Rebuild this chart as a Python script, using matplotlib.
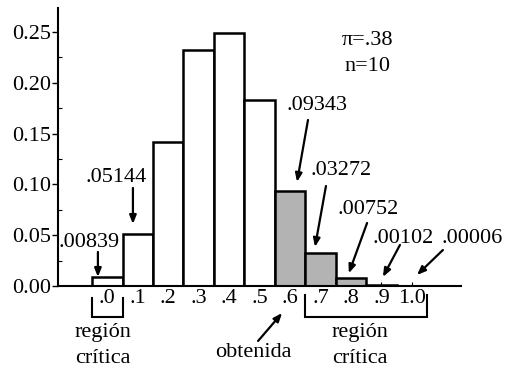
import matplotlib
matplotlib.use("Agg")
import matplotlib.pyplot as plt
from matplotlib.ticker import MultipleLocator

# Binomial distribution, n = 10, pi = .38
outcomes = list(range(11))
tick_labels = [".0", ".1", ".2", ".3", ".4", ".5", ".6", ".7", ".8", ".9", "1.0"]
probs = [0.00839, 0.05144, 0.14190, 0.23190, 0.24870, 0.18290,
         0.09343, 0.03272, 0.00752, 0.00102, 0.00006]
shaded = [6, 7, 8, 9, 10]
labelled = [0, 1, 6, 7, 8, 9, 10]
value_texts = [".00839", ".05144", ".09343", ".03272", ".00752", ".00102", ".00006"]

plt.rcParams["font.family"] = ["Liberation Serif", "DejaVu Serif"]
FS = 16

fig = plt.figure(figsize=(5.09, 3.67), dpi=100)
ax = fig.add_axes([0.114, 0.2207, 0.792, 0.7575])

colors = ["#b3b3b3" if k in shaded else "white" for k in outcomes]
ax.bar(outcomes, probs, width=1.0, color=colors, edgecolor="black",
       linewidth=1.8, zorder=2)

ax.set_xlim(-1.62, 11.62)
ax.set_ylim(0, 0.2736)
for s in ("top", "right"):
    ax.spines[s].set_visible(False)
for s in ("left", "bottom"):
    ax.spines[s].set_linewidth(1.5)
    ax.spines[s].set_zorder(3)

ax.yaxis.set_minor_locator(MultipleLocator(0.025))
ax.set_yticks([0, 0.05, 0.10, 0.15, 0.20, 0.25])
ax.set_yticklabels(["0.00", "0.05", "0.10", "0.15", "0.20", "0.25"], fontsize=FS)
ax.tick_params(axis="y", which="major", direction="out", length=4, width=1, pad=1)
ax.tick_params(axis="y", which="minor", direction="in", length=3, width=0.8)

ax.set_xticks(outcomes)
ax.set_xticklabels(tick_labels, fontsize=FS)
ax.tick_params(axis="x", which="major", direction="in", length=3, width=0.8, pad=2)
for t in ax.get_xticklines():
    t.set_zorder(4)

# value labels with arrows pointing to the bars
text_pos = [(-0.60, 0.0433), (0.30, 0.1063), (6.89, 0.1772), (7.67, 0.1132),
            (8.55, 0.0748), (9.72, 0.0472), (11.98, 0.0472)]
tails = [(-0.31, 0.0335), (0.84, 0.0965), (6.59, 0.1634), (7.18, 0.0984),
         (8.53, 0.062), (9.61, 0.0404), (11.02, 0.0354)]
tip_dx = [-0.31, -0.16, 0.23, -0.18, -0.07, 0.05, 0.17]
tip_gap = [0.0005, 0.0096, 0.009, 0.0057, 0.005, 0.0079, 0.0108]

arrow = dict(arrowstyle="-|>,head_length=0.5,head_width=0.2", lw=1.6,
             color="black", mutation_scale=10, shrinkA=0, shrinkB=0)
for k, txt, (tx, ty), tail, dx, gap in zip(labelled, value_texts, text_pos,
                                            tails, tip_dx, tip_gap):
    ax.text(tx, ty, txt, fontsize=FS, ha="center", va="center", clip_on=False)
    ax.annotate("", xy=(k + dx, probs[k] + gap), xytext=tail,
                arrowprops=arrow, annotation_clip=False)

ax.text(8.53, 0.2421, "π=.38", fontsize=FS, ha="center", va="center")
ax.text(8.53, 0.2156, "n=10", fontsize=FS, ha="center", va="center")

# critical-region brackets under the axis
def bracket(x0, x1, y_top, y_bot):
    ax.plot([x0, x0, x1, x1], [y_top, y_bot, y_bot, y_top], color="black",
            lw=1.5, clip_on=False, solid_joinstyle="miter")

bracket(outcomes[0] - 0.5, outcomes[0] + 0.5, -0.0118, -0.0305)
bracket(outcomes[7] - 0.5, outcomes[10] + 0.5, -0.0089, -0.0305)

for cx in (-0.14, 8.30):
    ax.text(cx, -0.0458, "región", fontsize=FS, ha="center", va="center",
            clip_on=False)
    ax.text(cx, -0.0718, "crítica", fontsize=FS, ha="center", va="center",
            clip_on=False)

ax.text(4.79, -0.065, "obtenida", fontsize=FS, ha="center", va="center",
        clip_on=False)
ax.annotate("", xy=(5.74, -0.0266), xytext=(4.95, -0.0541),
            arrowprops=arrow, annotation_clip=False)

fig.savefig("out.png", dpi=100)
